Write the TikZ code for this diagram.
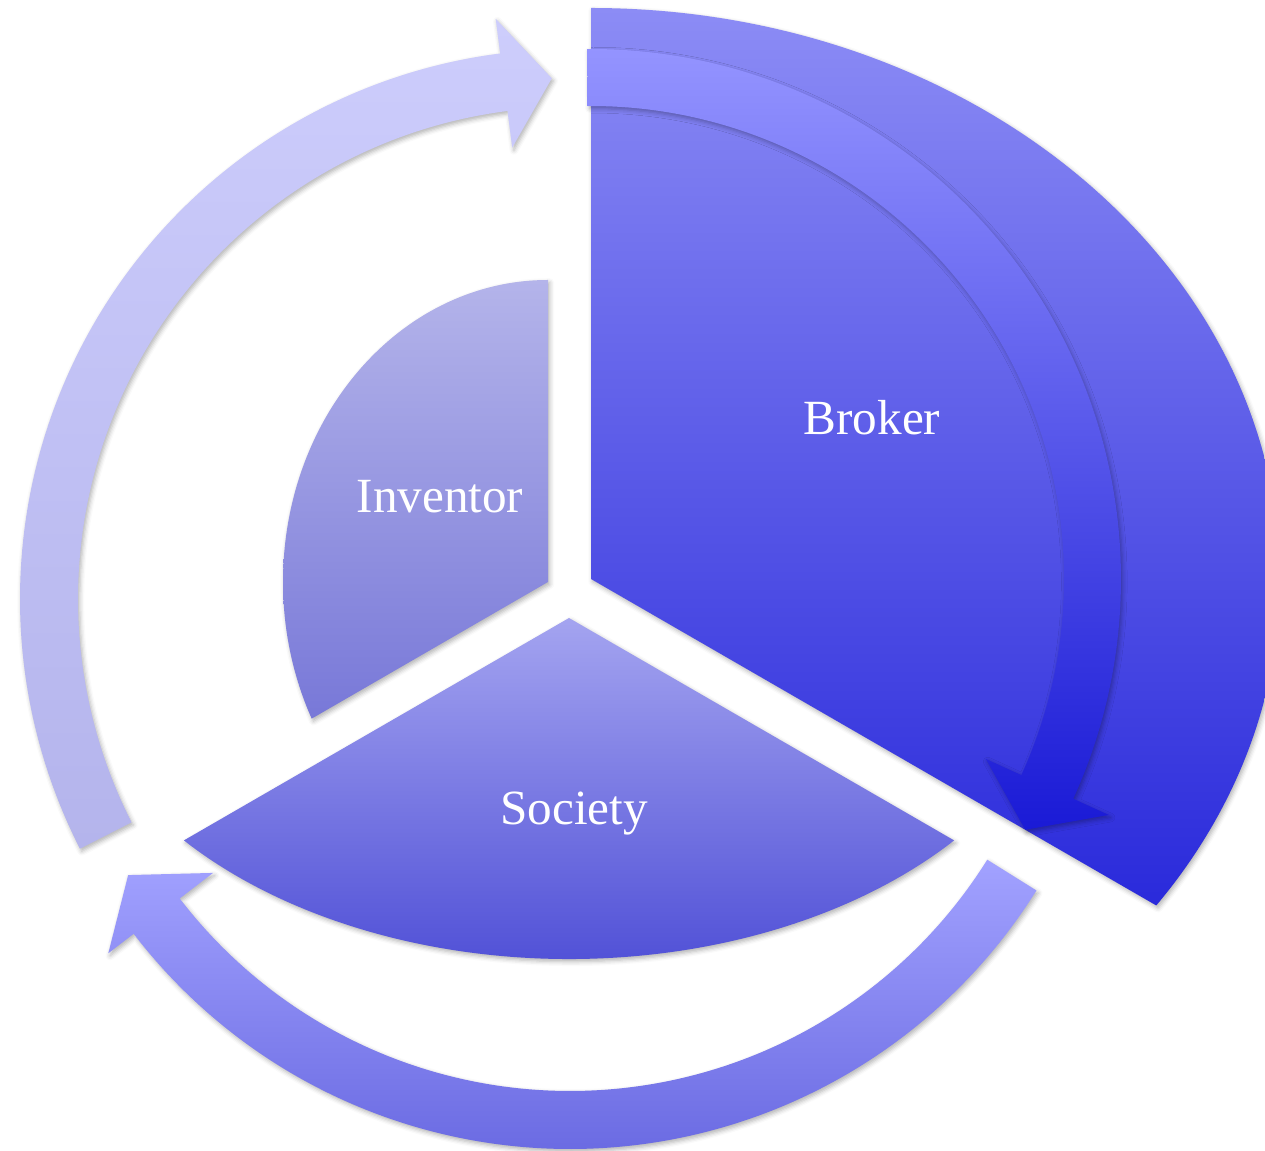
\documentclass[tikz,border=0pt]{standalone}
\usepackage{fontspec}
\setmainfont{Liberation Serif}
\usetikzlibrary{calc, shadows.blur}
\definecolor{inventortop}{HTML}{B4B4EA}
\definecolor{inventorbot}{HTML}{7878D8}
\definecolor{brokertop}{HTML}{8C8CF5}
\definecolor{brokermid}{HTML}{7070EA}
\definecolor{brokerbot}{HTML}{2A2ADB}
\definecolor{societytop}{HTML}{A4A4F0}
\definecolor{societybot}{HTML}{4E4ED6}
\definecolor{cycletop}{HTML}{CDCDFC}
\definecolor{cyclebot}{HTML}{B4B4EC}
\definecolor{returntop}{HTML}{A2A2FF}
\definecolor{returnbot}{HTML}{6A6AE2}
\definecolor{flowtop}{HTML}{9494FF}
\definecolor{flowbot}{HTML}{1A1AD6}

\begin{document}
\begin{tikzpicture}[x=0.02cm, y=0.02cm,
    pieshade/.style={blur shadow={shadow xshift=1pt, shadow yshift=-1.5pt,
      shadow blur radius=2.5pt, shadow opacity=30}},
    segtext/.style={text=white, anchor=base, font=\fontsize{28}{33}\selectfont}]

    \clip (0,0) rectangle (1265,1150);
    \coordinate (hub) at (570,551);
    \coordinate (inv) at (548,568);
    \coordinate (brk) at (591,571);
    \coordinate (soc) at (569,532);

    % outer cycle arrows
    \shade [pieshade, top color=cycletop, bottom color=cyclebot]
      ($(hub)+(207:550)$) arc[start angle=207, end angle=97.3, radius=550]
      -- ($(hub)+(97.3:585)$) -- ($(hub)+(92:521)$) -- ($(hub)+(97.3:455)$)
      -- ($(hub)+(97.3:492)$) arc[start angle=97.3, end angle=207, radius=492] -- cycle;
    \shade [pieshade, top color=returntop, bottom color=returnbot]
      ($(hub)+(-32:550)$) arc[start angle=-32, end angle=-142.5, radius=550]
      -- ($(hub)+(-142.5:582)$) -- ($(hub)+(-148:521)$) -- ($(hub)+(-142.5:450)$)
      -- ($(hub)+(-142.5:492)$) arc[start angle=-142.5, end angle=-32, radius=492] -- cycle;

    % the three wedges
    \shade [pieshade, top color=inventortop, bottom color=inventorbot]
      (inv) -- ++(0,302) arc[start angle=90, end angle=206.9, x radius=265, y radius=302] -- cycle;
    \shade [pieshade, top color=societytop, bottom color=societybot]
      (soc) -- ++(-385.1,-222.4) arc[start angle=220.7, end angle=319.3, x radius=508, y radius=341] -- cycle;
    \shade [pieshade, top color=brokertop, middle color=brokermid, bottom color=brokerbot]
      (brk) -- ++(0,571) arc[start angle=90, end angle=-34.87, x radius=689, y radius=571] -- cycle;

    % arrow over the broker wedge
    \shade [pieshade, top color=flowtop, bottom color=flowbot]
      ($(brk)+(90.4:530)$) arc[start angle=90.4, end angle=-24.5, radius=530]
      -- ($(brk)+(-24.5:569)$) -- ($(brk)+(-30:501.5)$) -- ($(brk)+(-24.5:434)$)
      -- ($(brk)+(-24.5:473)$) arc[start angle=-24.5, end angle=90.4, radius=473] -- cycle;

    \node [segtext] (inventor) at (440,637) {Inventor};
    \node [segtext] (broker) at (872,715) {Broker};
    \node [segtext] (society) at (574,325) {Society};
\end{tikzpicture}
\end{document}
